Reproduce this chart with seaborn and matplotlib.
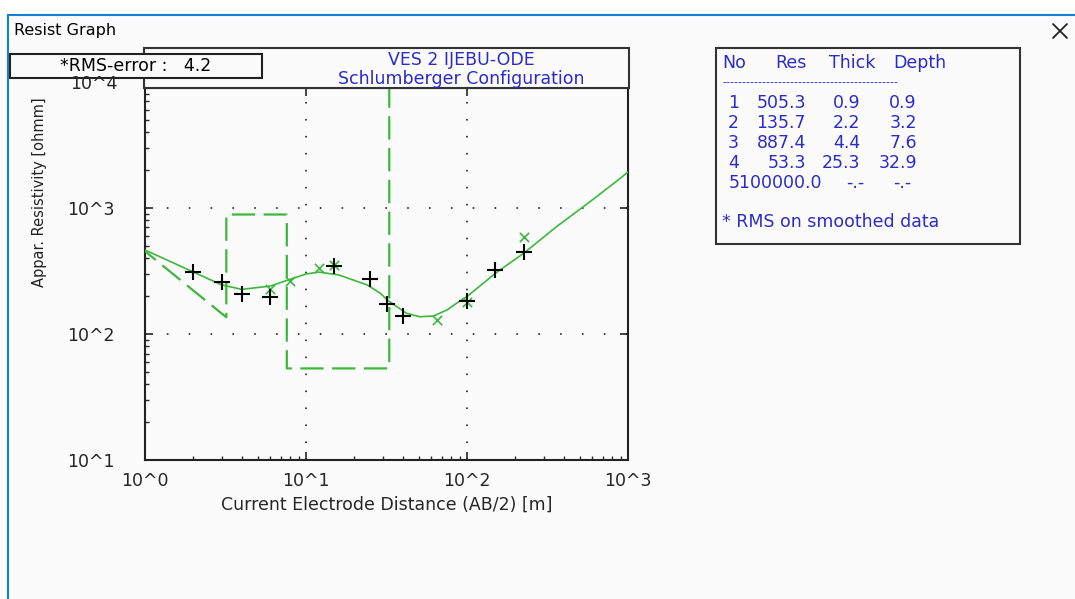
import numpy as np
import matplotlib
matplotlib.use("Agg")
import matplotlib.pyplot as plt
from matplotlib.patches import Rectangle
from matplotlib.lines import Line2D
import seaborn as sns

# 측정 자료 (AB/2, 겉보기 비저항)
ab2 = [2, 3, 4, 6, 15, 25, 32, 40, 100, 150, 225]
rho_a = [312, 257, 208, 198, 347, 272, 172, 139, 184, 322, 450]

# 평활화 자료 (x 마커)
smooth_ab2 = [6, 8, 12, 15, 65, 100, 225]
smooth_rho = [226, 264, 336, 350, 129, 180, 585]

# 모델 응답 곡선
curve_ab2 = [1, 2, 3, 4, 6, 8, 10, 12, 16, 24, 29, 32, 42, 51, 62, 75, 91, 100,
             150, 225, 360, 580, 870, 1000]
curve_rho = [464, 310, 245, 226, 240, 272, 299, 310, 294, 245, 210, 186, 146, 137,
             139, 155, 184, 198, 303, 437, 711, 1120, 1670, 1930]

# 층 모델
layer_no = [1, 2, 3, 4, 5]
layer_res = [505.3, 135.7, 887.4, 53.3, 100000.0]
layer_thick = [0.9, 2.2, 4.4, 25.3, None]
layer_depth = [0.9, 3.2, 7.6, 32.9, None]

title_lines = ["VES 2 IJEBU-ODE", "Schlumberger Configuration"]
rms_error = 4.2
x_ticks = [1, 10, 100, 1000]
x_ticklabels = ["10^0", "10^1", "10^2", "10^3"]
y_ticks = [10, 100, 1000]
y_ticklabels = ["10^1", "10^2", "10^3"]

GREEN = "#3cb83c"
BLUE = "#2b2bcc"
BG = "#fbfbfb"
W, H = 1075, 599

sns.set_style("ticks")
plt.rcParams["font.family"] = ["DejaVu Sans"]

fig = plt.figure(figsize=(W / 100, H / 100), dpi=100, facecolor=BG)


def fx(px):
    return px / W


def fy(py):
    return 1 - py / H


# 창 틀
fig.add_artist(Rectangle((0, fy(15)), 1, 15 / H, transform=fig.transFigure,
                         facecolor="white", edgecolor="none", zorder=0))
fig.add_artist(Line2D([fx(8), 1], [fy(15), fy(15)], transform=fig.transFigure,
                      color="#1a7fd4", lw=1.5))
fig.add_artist(Line2D([fx(8), fx(8)], [fy(15), 0], transform=fig.transFigure,
                      color="#1a7fd4", lw=1.5))
fig.add_artist(Line2D([fx(1053), fx(1067)], [fy(24), fy(38)], transform=fig.transFigure,
                      color="#222222", lw=1.3))
fig.add_artist(Line2D([fx(1053), fx(1067)], [fy(38), fy(24)], transform=fig.transFigure,
                      color="#222222", lw=1.3))
fig.text(fx(14), fy(31), "Resist Graph", fontsize=11.5, va="center", ha="left", color="black")

ax = fig.add_axes([fx(145), fy(460), (628 - 145) / W, (460 - 88) / H])
ax.set_facecolor(BG)
ax.set_xscale("log")
ax.set_yscale("log")
ax.set_xlim(1, 1000)
ax.set_ylim(10, 10 ** 3.952)

# 층 모델 (점선 계단)
model_x = [layer_depth[0], layer_depth[1], layer_depth[1], layer_depth[2],
           layer_depth[2], layer_depth[3], layer_depth[3]]
model_y = [layer_res[0], layer_res[1], layer_res[2], layer_res[2],
           layer_res[3], layer_res[3], layer_res[4]]
sns.lineplot(x=model_x, y=model_y, ax=ax, sort=False, estimator=None,
             color=GREEN, lw=1.6, zorder=3)
ax.lines[-1].set_dashes((10.5, 3.8))

sns.lineplot(x=curve_ab2, y=curve_rho, ax=ax, sort=False, estimator=None,
             color=GREEN, lw=1.2, zorder=4)
sns.scatterplot(x=smooth_ab2, y=smooth_rho, ax=ax, marker="x", s=45,
                color=GREEN, linewidth=1.2, zorder=5)
sns.scatterplot(x=ab2, y=rho_a, ax=ax, marker="+", s=130,
                color="black", linewidth=1.5, zorder=6)

# 점 격자
ax.xaxis.grid(True, which="major", color="#333333", lw=1.3, linestyle=(0, (0.9, 8.5)))
ax.yaxis.grid(True, which="major", color="#333333", lw=1.3, linestyle=(0, (0.9, 11.2)))

ax.set_xticks(x_ticks)
ax.set_xticklabels(x_ticklabels, fontsize=12.5)
ax.set_yticks(y_ticks)
ax.set_yticklabels(y_ticklabels, fontsize=12.5)
ax.tick_params(which="major", direction="in", length=6, width=1.2,
               top=True, right=True, pad=9)
ax.tick_params(axis="y", which="major", pad=22)
ax.tick_params(which="minor", direction="in", length=3, width=1,
               top=False, right=False)
for s in ax.spines.values():
    s.set_linewidth(1.5)
    s.set_color("#222222")

ax.set_xlabel("Current Electrode Distance (AB/2) [m]", fontsize=12.5, labelpad=4)
ax.set_ylabel("")
fig.text(fx(40), fy(192), "Appar. Resistivity [ohmm]", rotation=90, fontsize=10.5,
         ha="center", va="center", color="#222222")
fig.text(fx(94), fy(84), "10^4", fontsize=12.5, ha="center", va="center")

# 제목 상자
fig.add_artist(Rectangle((fx(144), fy(88)), (629 - 144) / W, 40 / H, transform=fig.transFigure,
                         facecolor=BG, edgecolor="#333333", lw=1.5, zorder=1))
fig.text(fx(461), fy(60), title_lines[0], fontsize=12.5, ha="center", va="center",
         color=BLUE, zorder=2)
fig.text(fx(461), fy(79), title_lines[1], fontsize=12.5, ha="center", va="center",
         color=BLUE, zorder=2)

# RMS 상자
fig.add_artist(Rectangle((fx(10), fy(78)), (262 - 10) / W, 24 / H, transform=fig.transFigure,
                         facecolor=BG, edgecolor="#222222", lw=1.5, zorder=3))
fig.text(fx(60), fy(66), f"*RMS-error :   {rms_error}", fontsize=12.5, ha="left",
         va="center", color="black", zorder=4)

# 층 정보 표
fig.add_artist(Rectangle((fx(716), fy(244)), (1020 - 716) / W, (244 - 48) / H,
                         transform=fig.transFigure, facecolor=BG, edgecolor="#333333",
                         lw=1.5, zorder=1))
tk = dict(fontsize=12.5, color=BLUE, va="center", zorder=2)
fig.text(fx(722), fy(63), "No", ha="left", **tk)
fig.text(fx(775), fy(63), "Res", ha="left", **tk)
fig.text(fx(829), fy(63), "Thick", ha="left", **tk)
fig.text(fx(893), fy(63), "Depth", ha="left", **tk)
fig.text(fx(722), fy(82), "-" * 44, ha="left", fontsize=8, color=BLUE, va="center")
for i, n in enumerate(layer_no):
    yy = fy(103 + 20 * i)
    if layer_thick[i] is None:
        fig.text(fx(729), yy, f"{n}{layer_res[i]:.1f}", ha="left", **tk)
        fig.text(fx(855), yy, "-.-", ha="center", **tk)
        fig.text(fx(902), yy, "-.-", ha="center", **tk)
    else:
        fig.text(fx(739), yy, f"{n}", ha="right", **tk)
        fig.text(fx(806), yy, f"{layer_res[i]:.1f}", ha="right", **tk)
        fig.text(fx(860), yy, f"{layer_thick[i]:.1f}", ha="right", **tk)
        fig.text(fx(917), yy, f"{layer_depth[i]:.1f}", ha="right", **tk)
fig.text(fx(722), fy(222), "* RMS on smoothed data", ha="left", **tk)

fig.savefig("out.png", dpi=100, facecolor=BG)
